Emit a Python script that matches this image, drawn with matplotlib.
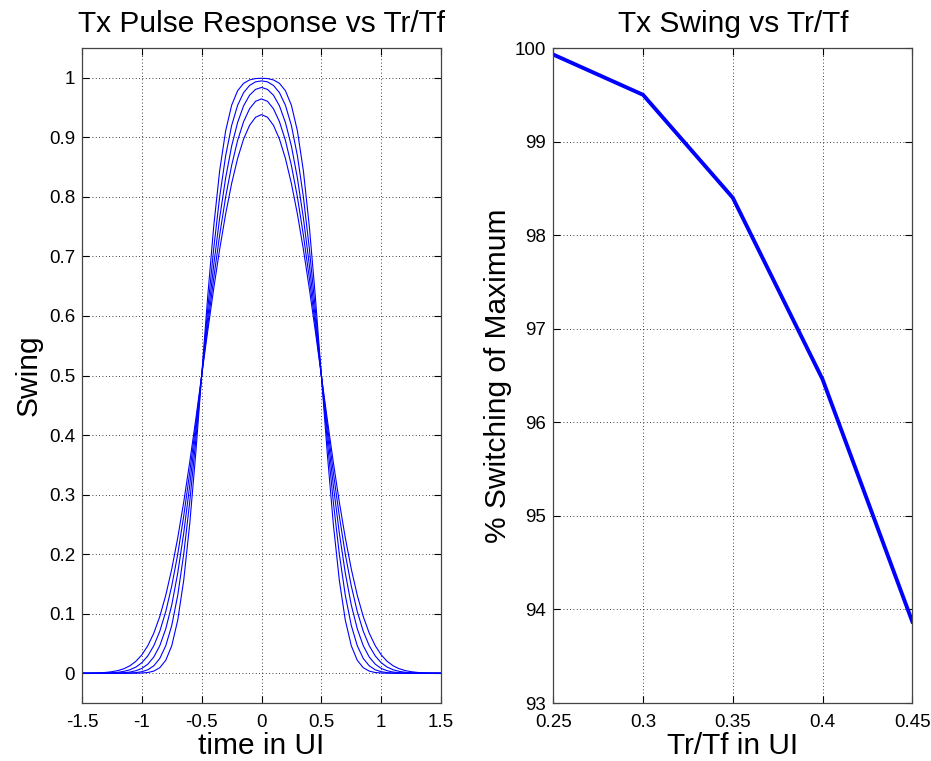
import numpy as np
import matplotlib
matplotlib.use("Agg")
import matplotlib.pyplot as plt

plt.rcParams['font.family'] = ['Liberation Sans', 'DejaVu Sans']

# time samples (UI), non-negative half; curves are symmetric about t=0
t_half = [0.00, 0.05, 0.10, 0.15, 0.20, 0.25, 0.30, 0.35, 0.40, 0.45,
          0.50, 0.55, 0.60, 0.65, 0.70, 0.75, 0.80, 0.85, 0.90, 0.95,
          1.00, 1.05, 1.10, 1.15, 1.20, 1.25, 1.30, 1.35, 1.40, 1.45, 1.50]

pulse_tr025 = [.9992, .9987, .9964, .9907, .9782, .9537, .9107, .8436, .7494, .6317,
               .5000, .3683, .2506, .1564, .0893, .0463, .0218, .0093, .0036, .0012,
               .0004, .0001, 0, 0, 0, 0, 0, 0, 0, 0, 0]
pulse_tr030 = [.9948, .9932, .9871, .9750, .9537, .9196, .8689, .7997, .7124, .6104,
               .5000, .3896, .2876, .2003, .1311, .0804, .0463, .0249, .0125, .0058,
               .0026, .0010, .0004, .0001, 0, 0, 0, 0, 0, 0, 0]
pulse_tr035 = [.9838, .9805, .9707, .9528, .9248, .8851, .8315, .7644, .6846, .5949,
               .5000, .4051, .3154, .2356, .1684, .1147, .0748, .0463, .0273, .0153,
               .0081, .0042, .0020, .0009, .0004, .0002, .0001, 0, 0, 0, 0]
pulse_tr040 = [.9646, .9605, .9479, .9262, .8947, .8525, .7996, .7356, .6628, .5833,
               .5000, .4167, .3371, .2642, .2000, .1467, .1037, .0706, .0463, .0292,
               .0177, .0103, .0058, .0032, .0016, .0008, .0004, .0002, .0001, 0, 0]
pulse_tr045 = [.9382, .9337, .9201, .8970, .8644, .8222, .7710, .7117, .6453, .5740,
               .5000, .4258, .3543, .2876, .2276, .1752, .1311, .0954, .0674, .0463,
               .0309, .0200, .0125, .0076, .0045, .0026, .0014, .0007, .0004, .0002, .0001]

tr_values = [0.25, 0.30, 0.35, 0.40, 0.45]
swing_pct = [99.93, 99.50, 98.40, 96.46, 93.87]

left_xticks = [-1.5, -1, -0.5, 0, 0.5, 1, 1.5]
left_xticklabels = ['-1.5', '-1', '-0.5', '0', '0.5', '1', '1.5']
left_yticks = [0, 0.1, 0.2, 0.3, 0.4, 0.5, 0.6, 0.7, 0.8, 0.9, 1]
left_yticklabels = ['0', '0.1', '0.2', '0.3', '0.4', '0.5', '0.6', '0.7', '0.8', '0.9', '1']
right_xticks = [0.25, 0.3, 0.35, 0.4, 0.45]
right_xticklabels = ['0.25', '0.3', '0.35', '0.4', '0.45']
right_yticks = [93, 94, 95, 96, 97, 98, 99, 100]
right_yticklabels = ['93', '94', '95', '96', '97', '98', '99', '100']

fig = plt.figure(figsize=(9.31, 7.61), dpi=100)
ax1 = fig.add_axes([0.0881, 0.0762, 0.3856, 0.8607])
ax2 = fig.add_axes([0.5943, 0.0762, 0.3856, 0.8607])


def style(ax):
    ax.grid(True, linestyle=(0, (1, 3)), color='black', linewidth=0.6)
    ax.tick_params(direction='in', top=True, right=True, length=5,
                   width=0.8, labelsize=13.5, colors='black')
    ax.tick_params(axis='y', pad=5)
    ax.tick_params(axis='x', pad=8)
    for s in ax.spines.values():
        s.set_linewidth(0.9)
        s.set_color('#444444')
    ax.set_axisbelow(True)


th = np.array(t_half)
t_full = np.concatenate([-th[:0:-1], th])
for curve in [pulse_tr025, pulse_tr030, pulse_tr035, pulse_tr040, pulse_tr045]:
    c = np.array(curve)
    y_full = np.concatenate([c[:0:-1], c])
    ax1.plot(t_full, y_full, color='#0000ff', linewidth=0.8)

ax1.set_xlim(-1.5, 1.5)
ax1.set_ylim(-0.05, 1.05)
ax1.set_xticks(left_xticks)
ax1.set_xticklabels(left_xticklabels)
ax1.set_yticks(left_yticks)
ax1.set_yticklabels(left_yticklabels)
style(ax1)
ax1.set_title('Tx Pulse Response vs Tr/Tf', fontsize=21.5, pad=11.5)
ax1.set_xlabel('time in UI', fontsize=21.5)
ax1.set_ylabel('Swing', fontsize=21.5)
ax1.yaxis.set_label_coords(-0.111, 0.5)
ax1.xaxis.set_label_coords(0.5, -0.045)

ax2.plot(tr_values, swing_pct, color='#0000ff', linewidth=2.8)
ax2.set_xlim(0.25, 0.45)
ax2.set_ylim(93, 100)
ax2.set_xticks(right_xticks)
ax2.set_xticklabels(right_xticklabels)
ax2.set_yticks(right_yticks)
ax2.set_yticklabels(right_yticklabels)
style(ax2)
ax2.set_title('Tx Swing vs Tr/Tf', fontsize=21.5, pad=11.5)
ax2.set_xlabel('Tr/Tf in UI', fontsize=21.5)
ax2.set_ylabel('% Switching of Maximum', fontsize=21.5)
ax2.yaxis.set_label_coords(-0.115, 0.5)
ax2.xaxis.set_label_coords(0.5, -0.045)

fig.savefig('out.png', dpi=100, facecolor='white')
